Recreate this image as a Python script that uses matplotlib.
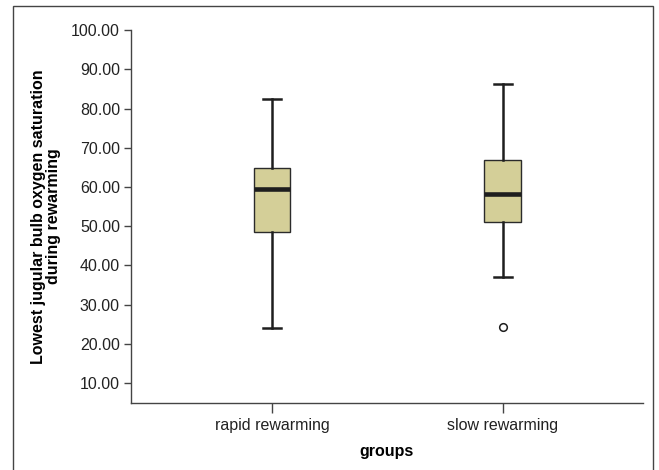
import matplotlib
matplotlib.use("Agg")
import matplotlib.pyplot as plt
from matplotlib.patches import Rectangle

plt.rcParams['font.family'] = ['Liberation Sans', 'DejaVu Sans']

groups = ["rapid rewarming", "slow rewarming"]
whisker_low = [24.1, 37.0]
q1 = [48.6, 51.1]
medians = [59.6, 58.3]
q3 = [64.9, 66.8]
whisker_high = [82.5, 86.2]
outliers = [[], [24.4]]
yticks = [10, 20, 30, 40, 50, 60, 70, 80, 90, 100]

stats = []
for i, g in enumerate(groups):
    stats.append(dict(label=g, whislo=whisker_low[i], q1=q1[i], med=medians[i],
                      q3=q3[i], whishi=whisker_high[i], fliers=outliers[i]))

fig = plt.figure(figsize=(6.59, 4.70), dpi=100)
ax = fig.add_axes([0.1988, 0.1432, 0.7769, 0.7928])

ax.bxp(stats, positions=[1, 2], widths=0.159, capwidths=0.077, patch_artist=True,
       boxprops=dict(facecolor="#d4cf98", edgecolor="#2b2b2b", linewidth=1.0),
       medianprops=dict(color="#1e1e1e", linewidth=3.3, solid_capstyle="butt"),
       whiskerprops=dict(color="#1e1e1e", linewidth=1.8),
       capprops=dict(color="#1e1e1e", linewidth=1.8),
       flierprops=dict(marker="o", markerfacecolor="none", markeredgecolor="#1e1e1e",
                       markersize=5.5, markeredgewidth=1.1))

ax.set_xlim(0.389, 2.608)
ax.set_ylim(5, 100)
ax.set_yticks(yticks)
ax.set_yticklabels(["%.2f" % v for v in yticks])
ax.set_xticks([1, 2])
ax.set_xticklabels(groups)

for s in ["top", "right"]:
    ax.spines[s].set_visible(False)
for s in ["left", "bottom"]:
    ax.spines[s].set_color("#444444")
    ax.spines[s].set_linewidth(1.0)
ax.tick_params(axis="y", length=5, width=1, color="#444444", labelsize=11.5, pad=3, labelcolor="#222222")
ax.tick_params(axis="x", length=7, width=1, color="#444444", labelsize=11.5, pad=4, labelcolor="#222222")

ax.set_ylabel("Lowest jugular bulb oxygen saturation\nduring rewarming", fontsize=11.5,
              fontweight="bold", labelpad=7, linespacing=1.0)
ax.set_xlabel("groups", fontsize=11.5, fontweight="bold", labelpad=8)

# outer frame around the figure
fig.patches.append(Rectangle((12.5 / 659, -0.05), (653 - 12.5) / 659, 1 - 6 / 470 + 0.05,
                             transform=fig.transFigure, fill=False,
                             edgecolor="#444444", linewidth=1.0))

fig.savefig("out.png", dpi=100)
